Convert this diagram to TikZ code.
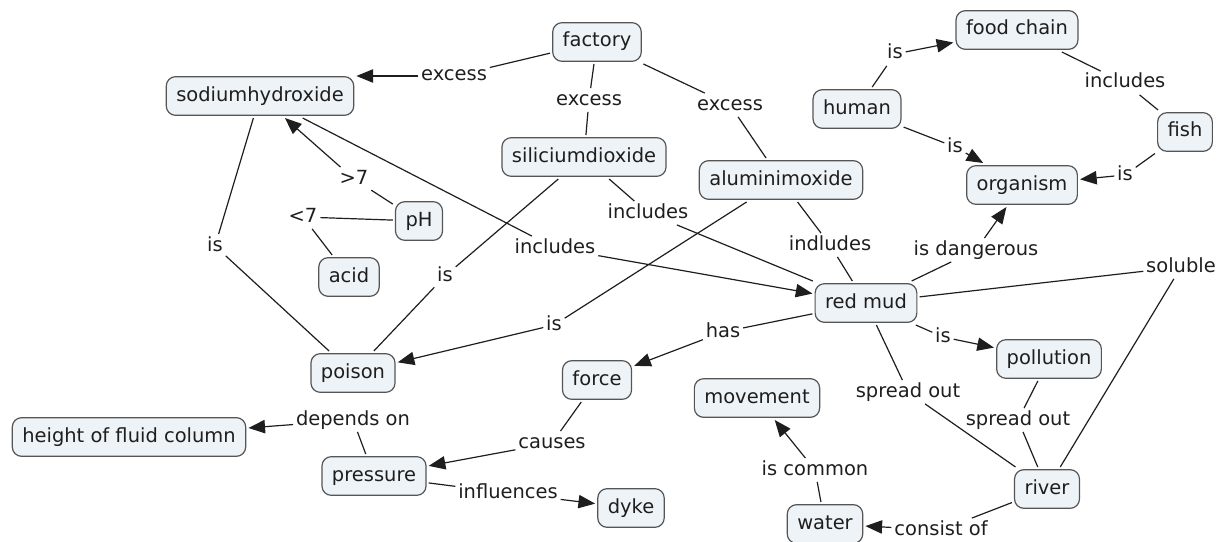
\documentclass[tikz,border=0pt]{standalone}
\usepackage{fontspec}
\setmainfont{DejaVu Sans}
\usetikzlibrary{arrows.meta}

\definecolor{boxfill}{RGB}{238,243,247}
\definecolor{boxline}{RGB}{85,85,85}
\definecolor{ink}{RGB}{30,30,30}

\begin{document}
\begin{tikzpicture}[
    x=0.75pt, y=-0.75pt,
    every node/.style={font=\fontsize{14.6}{17}\selectfont, text=ink,
      text height=10.5pt, text depth=3pt},
    cn/.style={draw=boxline, fill=boxfill, rounded corners=7pt, line width=0.9pt,
      inner xsep=7.5pt, inner ysep=0pt, minimum height=29pt, outer sep=2pt},
    lb/.style={inner sep=2pt},
    ed/.style={draw=ink, line width=0.9pt},
    ar/.style={ed, -{Triangle[length=12.5pt,width=10pt]}}
  ]
  \useasboundingbox (0,0) rectangle (1224,542);

  % concepts
  \node[cn] (factory) at (597,42) {factory};
  \node[cn] (naoh) at (260,96) {sodiumhydroxide};
  \node[cn] (sio) at (584,157) {siliciumdioxide};
  \node[cn] (alo) at (781,180) {aluminimoxide};
  \node[cn] (human) at (857,109) {human};
  \node[cn] (food) at (1017,30) {food chain};
  \node[cn] (fish) at (1185,132) {fish};
  \node[cn] (org) at (1022,185) {organism};
  \node[cn] (ph) at (419,221) {pH};
  \node[cn] (acid) at (349,277) {acid};
  \node[cn] (poison) at (353,373) {poison};
  \node[cn] (height) at (129,437) {height of fluid column};
  \node[cn] (press) at (374,476) {pressure};
  \node[cn] (mud) at (866,303) {red mud};
  \node[cn] (force) at (597,380) {force};
  \node[cn] (move) at (757,398) {movement};
  \node[cn] (dyke) at (631,508) {dyke};
  \node[cn] (water) at (825,524) {water};
  \node[cn] (poll) at (1049,359) {pollution};
  \node[cn] (river) at (1047,489) {river};

  % link labels
  \node[lb] (exA) at (454,76) {excess};
  \node[lb] (exB) at (589,100) {excess};
  \node[lb] (exC) at (730,105) {excess};
  \node[lb] (gt) at (354,179) {>7};
  \node[lb] (lt) at (303,217) {<7};
  \node[lb] (isA) at (215,246) {is};
  \node[lb] (incA) at (555,248) {includes};
  \node[lb] (incB) at (648,213) {includes};
  \node[lb] (isB) at (445,276) {is};
  \node[lb] (indl) at (830,245) {indludes};
  \node[lb] (isC) at (554,325) {is};
  \node[lb] (has) at (723,332) {has};
  \node[lb] (dang) at (976,250) {is dangerous};
  \node[lb] (sol) at (1181,267) {soluble};
  \node[lb] (isD) at (943,337) {is};
  \node[lb] (sprA) at (908,392) {spread out};
  \node[lb] (sprB) at (1018,420) {spread out};
  \node[lb] (cons) at (941,530) {consist of};
  \node[lb] (comm) at (815,470) {is common};
  \node[lb] (caus) at (552,443) {causes};
  \node[lb] (infl) at (508,493) {influences};
  \node[lb] (dep) at (353,420) {depends on};
  \node[lb] (isE) at (895,54) {is};
  \node[lb] (incC) at (1125,83) {includes};
  \node[lb] (isF) at (955,147) {is};
  \node[lb] (isG) at (1125,175) {is};

  % links without arrow
  \foreach \s/\l/\t in {factory/exB/sio, factory/exC/alo, ph/lt/acid,
      naoh/isA/poison, sio/incB/mud, sio/isB/poison, alo/indl/mud,
      mud/sol/river, mud/sprA/river, poll/sprB/river, food/incC/fish} {
    \draw[ed] (\s) -- (\l);
    \draw[ed] (\l) -- (\t);
  }
  % links with arrow
  \foreach \s/\l/\t in {ph/gt/naoh, naoh/incA/mud,
      alo/isC/poison, mud/has/force, mud/dang/org, mud/isD/poll,
      river/cons/water, water/comm/move, force/caus/press, press/infl/dyke,
      press/dep/height, human/isE/food, human/isF/org, fish/isG/org} {
    \draw[ed] (\s) -- (\l);
    \draw[ar] (\l) -- (\t);
  }
  \draw[ed] (factory) -- (exA);
  \draw[ar] (exA) -- (exA -| naoh.east);
\end{tikzpicture}
\end{document}
